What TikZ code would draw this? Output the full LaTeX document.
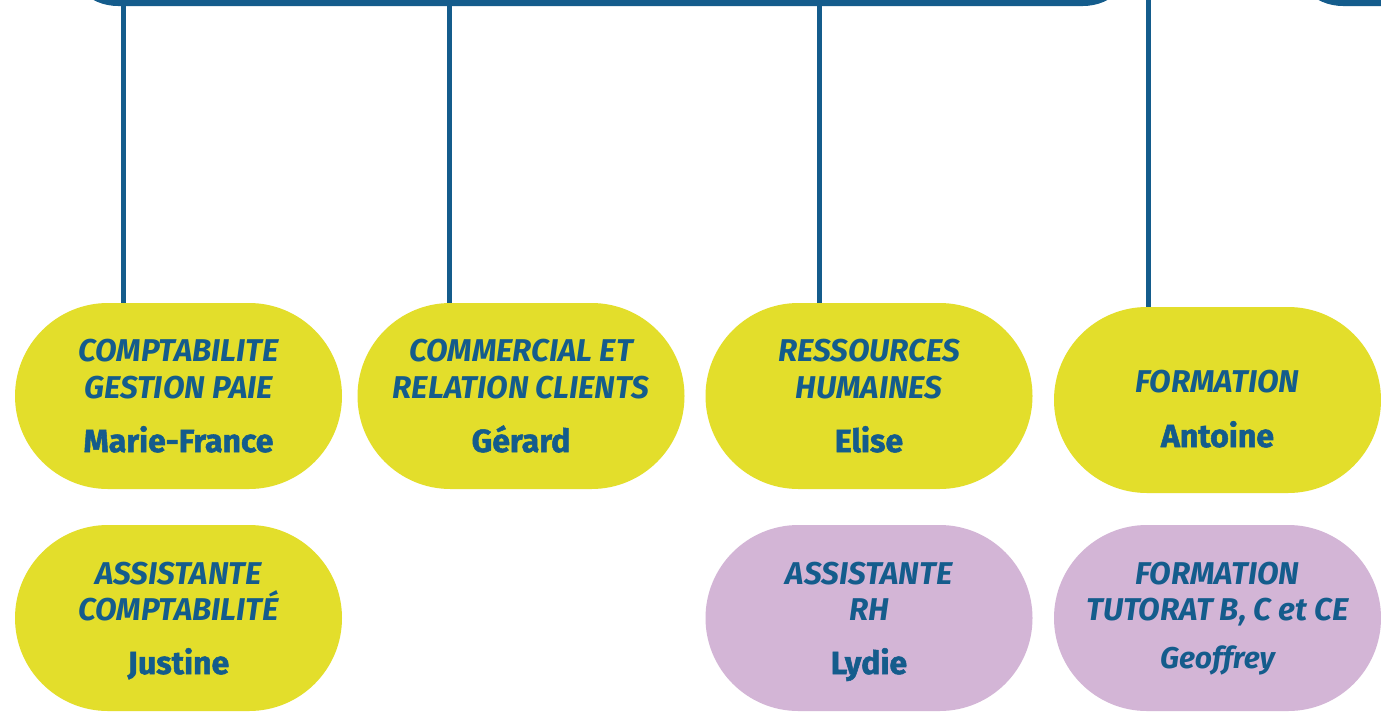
\documentclass[tikz,border=0pt]{standalone}
\usepackage{fontspec}
\setmainfont{Fira Sans}
\usetikzlibrary{calc}
\definecolor{orgblue}{RGB}{20,92,140}
\definecolor{orgyellow}{RGB}{227,222,43}
\definecolor{orgpurple}{RGB}{211,181,214}
\begin{document}
\begin{tikzpicture}[x=1pt,y=-1pt,
  pill/.style={rectangle, rounded corners=93pt, minimum width=327pt, minimum height=186pt, inner sep=0pt, fill=orgyellow},
  pillp/.style={pill, fill=orgpurple},
  ttl/.style={font=\fontsize{31.5}{37}\selectfont\bfseries\itshape, text=orgblue, anchor=base, inner sep=0pt},
  nm/.style={font=\fontsize{32}{38}\selectfont\bfseries\addfontfeature{FakeBold=1.6}, text=orgblue, anchor=base, inner sep=0pt},
  nmi/.style={font=\fontsize{30}{36}\selectfont\bfseries\itshape, text=orgblue, anchor=base, inner sep=0pt},
  link/.style={draw=orgblue, line width=5pt},
  frame/.style={draw=orgblue, line width=6pt, rounded corners=50pt}]
\useasboundingbox (0,0) rectangle (1381,713);
\clip (0,0) rectangle (1381,713);
\fill[white] (0,0) rectangle (1381,713);

% top frames (cut off)
\draw[frame] (68,-150) rectangle (1133,3);
\draw[frame] (1293,-150) rectangle (1600,3);

% boxes
\node[pill] (compta) at (178.5,396) {};
\node[pill] (comm) at (521,396) {};
\node[pill] (rh) at (869,396) {};
\node[pill] (form) at (1217.5,400) {};
\node[pill] (asscompta) at (178.5,618) {};
\node[pillp] (assrh) at (869,618) {};
\node[pillp] (tutorat) at (1217.5,618) {};

% connectors
\coordinate (t1) at (123,3);
\coordinate (t2) at (449,3);
\coordinate (t3) at (819,3);
\coordinate (t4) at (1148,0);
\draw[link] (t1) -- (t1 |- compta.north);
\draw[link] (t2) -- (t2 |- comm.north);
\draw[link] (t3) -- (t3 |- rh.north);
\draw[link] (t4) -- (t4 |- form.north);

% texts
\node[ttl] (c1) at ($(compta)+(0,-35)$) {COMPTABILITE};
\node[ttl] (c2) at ($(compta)+(0,2)$) {GESTION PAIE};
\node[nm]  (c3) at ($(compta)+(0,56)$) {Marie-France};

\node[ttl] (m1) at ($(comm)+(0,-35)$) {COMMERCIAL ET};
\node[ttl] (m2) at ($(comm)+(0,2)$) {RELATION CLIENTS};
\node[nm]  (m3) at ($(comm)+(0,56)$) {Gérard};

\node[ttl] (r1) at ($(rh)+(0,-35)$) {RESSOURCES};
\node[ttl] (r2) at ($(rh)+(0,2)$) {HUMAINES};
\node[nm]  (r3) at ($(rh)+(0,56)$) {Elise};

\node[ttl] (f1) at ($(form)+(0,-8)$) {FORMATION};
\node[nm]  (f2) at ($(form)+(0,47)$) {Antoine};

\node[ttl] (a1) at ($(asscompta)+(0,-34)$) {ASSISTANTE};
\node[ttl] (a2) at ($(asscompta)+(0,2)$) {COMPTABILITÉ};
\node[nm]  (a3) at ($(asscompta)+(0,56)$) {Justine};

\node[ttl] (h1) at ($(assrh)+(0,-34)$) {ASSISTANTE};
\node[ttl] (h2) at ($(assrh)+(0,2)$) {RH};
\node[nm]  (h3) at ($(assrh)+(0,56)$) {Lydie};

\node[ttl] (g1) at ($(tutorat)+(0,-34)$) {FORMATION};
\node[ttl] (g2) at ($(tutorat)+(0,2)$) {TUTORAT B, C et CE};
\node[nmi] (g3) at ($(tutorat)+(0,50)$) {Geoffrey};
\end{tikzpicture}
\end{document}
